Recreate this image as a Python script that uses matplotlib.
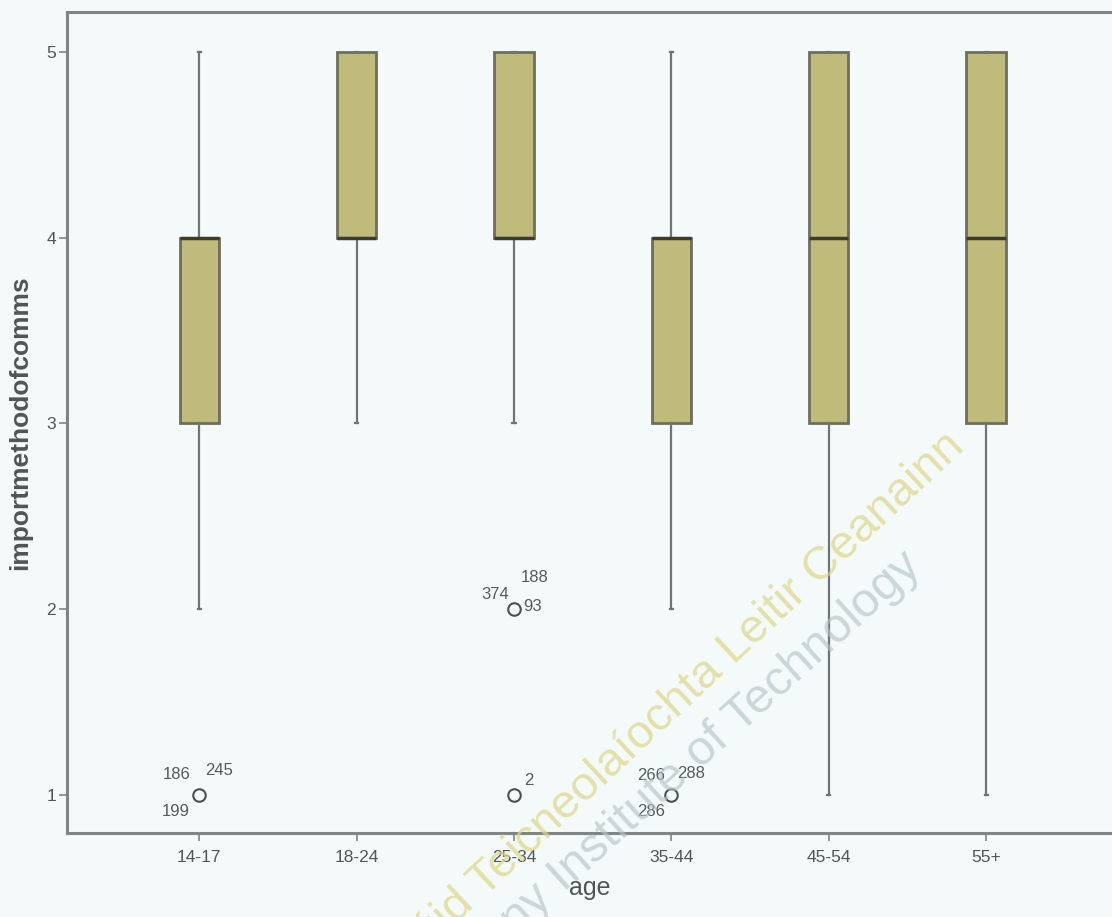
import matplotlib
matplotlib.use("Agg")
import matplotlib.pyplot as plt

# SPSS-style boxplot: importmethodofcomms by age
ages = ["14-17", "18-24", "25-34", "35-44", "45-54", "55+"]
q1 = [3, 4, 4, 3, 3, 3]
med = [4, 4, 4, 4, 4, 4]
q3 = [4, 5, 5, 4, 5, 5]
whislo = [2, 3, 3, 2, 1, 1]
whishi = [5, 5, 5, 5, 5, 5]
fliers = [[1], [], [2, 1], [1], [], []]

# case labels beside outliers: (group index, value, label, dx px, dy px, ha)
out_labels = [
    (0, 1, "186", -9, 20, "right"),
    (0, 1, "245", 6, 24, "left"),
    (0, 1, "199", -9, -17, "right"),
    (2, 2, "374", -5, 15, "right"),
    (2, 2, "188", 7, 32, "left"),
    (2, 2, "93", 9, 3, "left"),
    (2, 1, "2", 10, 14, "left"),
    (3, 1, "266", -6, 19, "right"),
    (3, 1, "288", 6, 21, "left"),
    (3, 1, "286", -6, -17, "right"),
]

bg = "#f4fafa"
fig = plt.figure(figsize=(11.12, 9.17), dpi=100, facecolor=bg)
ax = fig.add_axes([0.0603, 0.0916, 0.9397, 0.8953], facecolor=bg)

stats = []
for i in range(len(ages)):
    stats.append(dict(label=ages[i], q1=q1[i], med=med[i], q3=q3[i],
                      whislo=whislo[i], whishi=whishi[i], fliers=fliers[i]))

ax.bxp(stats, positions=range(len(ages)), widths=0.25, patch_artist=True,
       boxprops=dict(facecolor="#bfbb7a", edgecolor="#6e6e5c", linewidth=2),
       medianprops=dict(color="#3b3b30", linewidth=2.5),
       whiskerprops=dict(color="#6f7575", linewidth=1.6),
       capprops=dict(color="#6f7575", linewidth=1.6), capwidths=0.02,
       flierprops=dict(marker="o", markerfacecolor="none", markeredgecolor="#4a4f4f",
                       markersize=9, markeredgewidth=1.5))

for gi, val, lab, dx, dy, ha in out_labels:
    ax.annotate(lab, (gi, val), xytext=(dx, dy), textcoords="offset pixels",
                ha=ha, va="center", fontsize=12, color="#555a5a",
                family="Liberation Sans")

ax.set_xlim(-0.84, 5.8)
ax.set_ylim(0.795, 5.215)
ax.set_yticks([1, 2, 3, 4, 5])
ax.set_yticklabels(["1", "2", "3", "4", "5"])

for s in ["left", "bottom", "top"]:
    ax.spines[s].set_color("#7f8585")
    ax.spines[s].set_linewidth(2.2)
ax.spines["right"].set_visible(False)
ax.tick_params(colors="#7f8585", length=6, width=1.2, labelsize=12.5,
               labelcolor="#505555")
ax.tick_params(axis="x", pad=6)
ax.tick_params(axis="y", pad=2)
for t in ax.get_xticklabels() + ax.get_yticklabels():
    t.set_family("Liberation Sans")

ax.set_xlabel("age", fontsize=18, color="#505555", family="Liberation Sans", labelpad=8)
ax.set_ylabel("importmethodofcomms", fontsize=19, fontweight="bold", color="#505555",
              family="Liberation Sans", labelpad=10)

# faint watermark across the plot
fig.text(958 / 1112, 1 - 440 / 917, "Institiúid Teicneolaíochta Leitir Ceanainn",
         rotation=43, rotation_mode="anchor", ha="right", va="center",
         fontsize=34, color="#ddd585", alpha=0.7,
         family="Liberation Sans", zorder=0)
fig.text(915 / 1112, 1 - 560 / 917, "Letterkenny Institute of Technology",
         rotation=42, rotation_mode="anchor", ha="right", va="center",
         fontsize=35, color="#b5c3c6", alpha=0.65,
         family="Liberation Sans", zorder=0)

fig.savefig("out.png", dpi=100, facecolor=bg)
